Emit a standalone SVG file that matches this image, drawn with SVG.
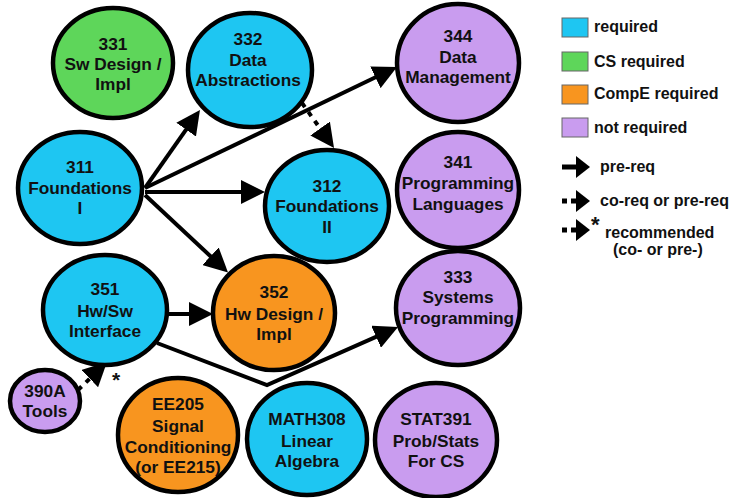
<svg xmlns="http://www.w3.org/2000/svg" width="736" height="498" viewBox="0 0 736 498">
<defs>
<marker id="ah" viewBox="0 0 10 10" refX="2" refY="5" markerWidth="6" markerHeight="6" orient="auto" markerUnits="strokeWidth">
<path d="M0,0 L10,5 L0,10 z" fill="#000"/>
</marker>
</defs>
<style>
.n{stroke:#000;stroke-width:4.5}
.req{fill:#1ec6f2}
.cs{fill:#5ed65a}
.ce{fill:#f8951f}
.nr{fill:#c99cef}
.t{font-family:"Liberation Sans",Arial,sans-serif;font-weight:bold;font-size:17.3px;text-anchor:middle;fill:#111}
.lg{font-family:"Liberation Sans",Arial,sans-serif;font-weight:bold;font-size:16px;fill:#111}
.c{fill:none;stroke:#000;stroke-width:4}
.d{stroke-dasharray:5 6}
.box{stroke:#666;stroke-width:1}
</style>
<rect width="736" height="498" fill="#fff"/>
<g id="connectors">
<line class="c" x1="145" y1="188" x2="188.9" y2="125.7" marker-end="url(#ah)"/>
<line class="c" x1="145" y1="188" x2="379.7" y2="75.3" marker-end="url(#ah)"/>
<line class="c" x1="145" y1="192" x2="245.8" y2="192" marker-end="url(#ah)"/>
<line class="c" x1="145" y1="195" x2="214" y2="259.5" marker-end="url(#ah)"/>
<line class="c d" x1="302" y1="103" x2="322.9" y2="132.4" marker-end="url(#ah)"/>
<line class="c" x1="167" y1="314" x2="193.8" y2="314" marker-end="url(#ah)"/>
<polyline class="c" points="157,343 267,385 380.5,334.8" marker-end="url(#ah)"/>
<line class="c d" x1="78" y1="390" x2="93.2" y2="375.3" marker-end="url(#ah)"/>
<text class="lg" x="112" y="387" style="font-size:21px">*</text>
</g>
<g id="n331"><ellipse class="n cs" cx="113" cy="63" rx="60" ry="55"/>
<text class="t" x="113" y="50">331</text><text class="t" x="113" y="70">Sw Design /</text><text class="t" x="113" y="90">Impl</text></g>
<g id="n332"><ellipse class="n req" cx="250" cy="70" rx="62" ry="57"/>
<text class="t" x="248" y="45">332</text><text class="t" x="248" y="66">Data</text><text class="t" x="248" y="86">Abstractions</text></g>
<g id="n311"><ellipse class="n req" cx="80" cy="188" rx="62" ry="56"/>
<text class="t" x="80" y="173">311</text><text class="t" x="80" y="194">Foundations</text><text class="t" x="80" y="214">I</text></g>
<g id="n312"><ellipse class="n req" cx="327" cy="206" rx="62" ry="56"/>
<text class="t" x="327" y="192">312</text><text class="t" x="327" y="212">Foundations</text><text class="t" x="327" y="233">II</text></g>
<g id="n344"><ellipse class="n nr" cx="458" cy="63" rx="61" ry="59"/>
<text class="t" x="458" y="42">344</text><text class="t" x="458" y="63">Data</text><text class="t" x="458" y="83">Management</text></g>
<g id="n341"><ellipse class="n nr" cx="458" cy="190" rx="61" ry="58"/>
<text class="t" x="458" y="168">341</text><text class="t" x="458" y="189">Programming</text><text class="t" x="458" y="210">Languages</text></g>
<g id="n351"><ellipse class="n req" cx="105" cy="310" rx="62" ry="55"/>
<text class="t" x="105" y="295">351</text><text class="t" x="105" y="317">Hw/Sw</text><text class="t" x="105" y="337">Interface</text></g>
<g id="n352"><ellipse class="n ce" cx="274" cy="313" rx="61" ry="57"/>
<text class="t" x="274" y="298">352</text><text class="t" x="274" y="320">Hw Design /</text><text class="t" x="274" y="340">Impl</text></g>
<g id="n390A"><ellipse class="n nr" cx="45" cy="401" rx="35" ry="31"/>
<text class="t" x="45" y="397">390A</text><text class="t" x="45" y="417">Tools</text></g>
<g id="nEE205"><ellipse class="n ce" cx="178" cy="435" rx="60" ry="57"/>
<text class="t" x="178" y="410">EE205</text><text class="t" x="178" y="432">Signal</text><text class="t" x="178" y="453">Conditioning</text><text class="t" x="178" y="473">(or EE215)</text></g>
<g id="nMATH308"><ellipse class="n req" cx="307" cy="439" rx="60" ry="56"/>
<text class="t" x="307" y="425">MATH308</text><text class="t" x="307" y="447">Linear</text><text class="t" x="307" y="467">Algebra</text></g>
<g id="n333"><ellipse class="n nr" cx="458" cy="308" rx="62" ry="57"/>
<text class="t" x="458" y="283">333</text><text class="t" x="458" y="303">Systems</text><text class="t" x="458" y="324">Programming</text></g>
<g id="nSTAT391"><ellipse class="n nr" cx="436" cy="440" rx="61" ry="57"/>
<text class="t" x="436" y="425">STAT391</text><text class="t" x="436" y="447">Prob/Stats</text><text class="t" x="436" y="467">For CS</text></g>
<g id="legend">
<rect class="box req" x="562" y="18" width="26" height="19"/>
<text class="lg" x="594" y="32">required</text>
<rect class="box cs" x="562" y="52" width="26" height="19"/>
<text class="lg" x="594" y="67">CS required</text>
<rect class="box ce" x="562" y="85" width="26" height="19"/>
<text class="lg" x="594" y="99">CompE required</text>
<rect class="box nr" x="562" y="118" width="26" height="19"/>
<text class="lg" x="594" y="133">not required</text>
<line x1="562" y1="167" x2="578" y2="167" stroke="#000" stroke-width="5"/>
<path d="M576,156 L590,167 L576,178 z"/>
<text class="lg" x="600" y="172">pre-req</text>
<line x1="562" y1="201" x2="578" y2="201" stroke="#000" stroke-width="5" stroke-dasharray="5 4"/>
<path d="M576,190 L590,201 L576,212 z"/>
<text class="lg" x="600" y="206">co-req or pre-req</text>
<line x1="562" y1="230" x2="578" y2="230" stroke="#000" stroke-width="5" stroke-dasharray="5 4"/>
<path d="M576,219 L590,230 L576,241 z"/>
<text class="lg" x="591" y="232" style="font-size:22px">*</text>
<text class="lg" x="605" y="238">recommended</text>
<text class="lg" x="613" y="255">(co- or pre-)</text>
</g>
</svg>
